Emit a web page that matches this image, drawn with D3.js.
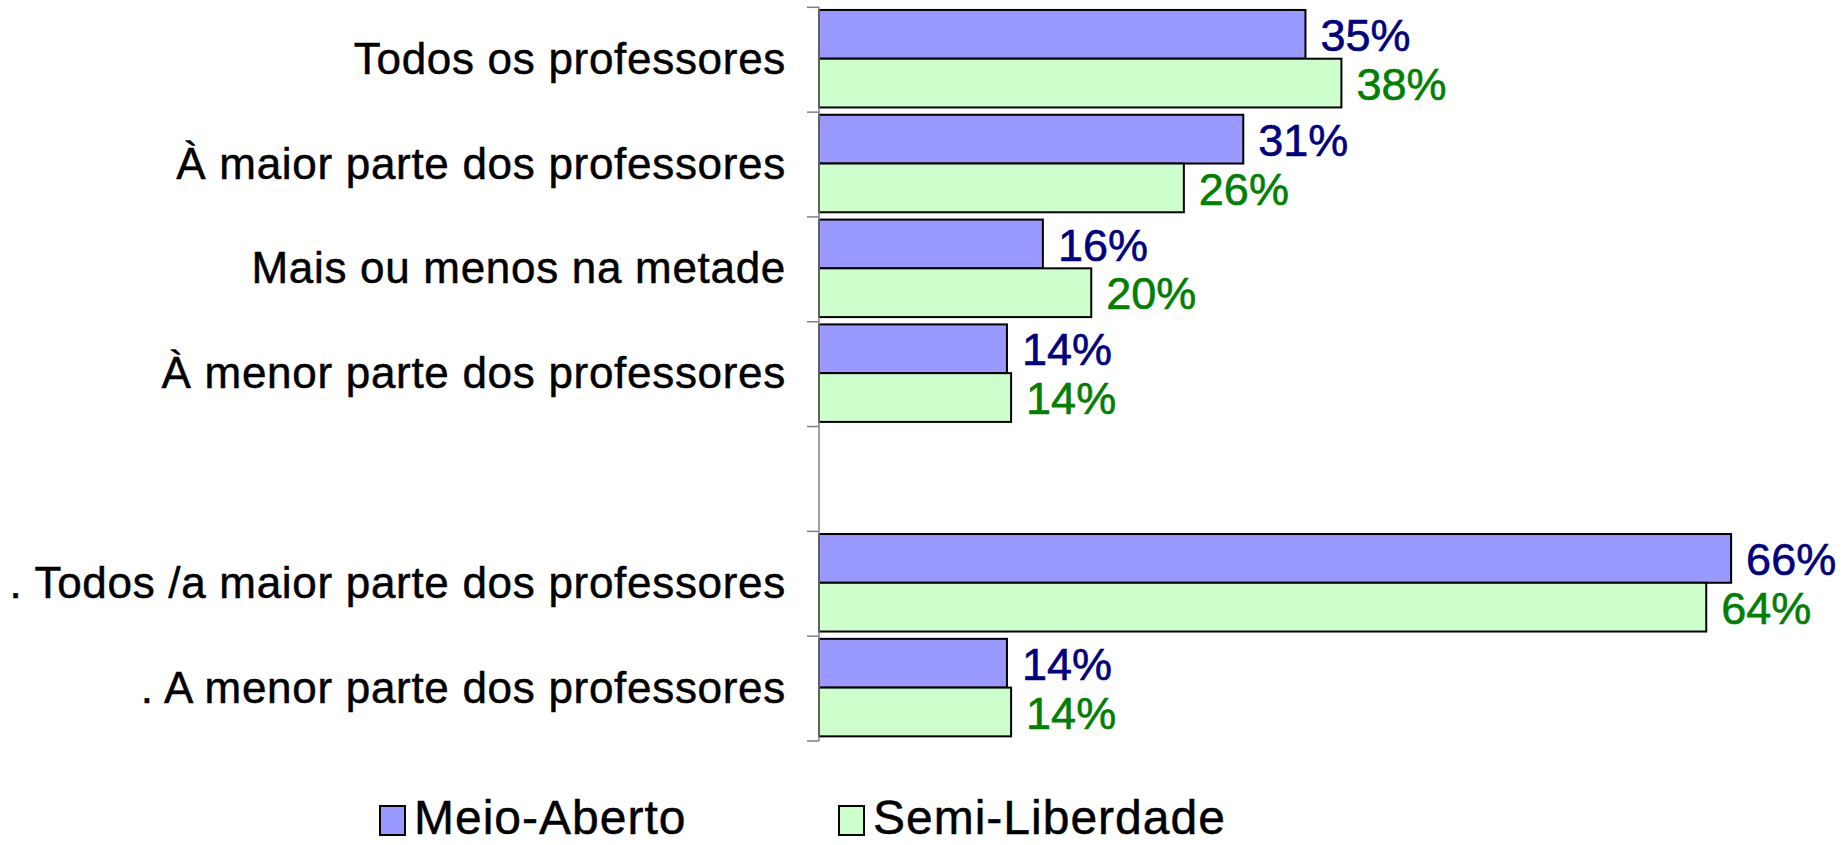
<!DOCTYPE html>
<html>
<head>
<meta charset="utf-8">
<script src="https://cdn.jsdelivr.net/npm/d3@7"></script>
<style>
  html, body { margin: 0; padding: 0; background: #fff; }
  svg { display: block; }
  text { font-family: "Liberation Sans", Arial, sans-serif; }
</style>
</head>
<body>
<svg id="chart" width="1848" height="845"></svg>
<script>
// ---- data ----
const categories = [
  "Todos os professores",
  "À maior parte dos professores",
  "Mais ou menos na metade",
  "À menor parte dos professores",
  "",
  ". Todos /a maior parte dos professores",
  ". A menor parte dos professores"
];
const seriesNames = ["Meio-Aberto", "Semi-Liberdade"];
const meioAberto    = [35.2, 30.7, 16.2, 13.6, null, 66.0, 13.6];
const semiLiberdade = [37.8, 26.4, 19.7, 13.9, null, 64.2, 13.9];
const xDomain = [0, 70];

// ---- styles ----
const fills = ["#9999FF", "#CCFFCC"];
const labelColors = ["#000080", "#008000"];

const svg = d3.select("#chart");
const axisX = 819;

const x = d3.scaleLinear().domain(xDomain).range([axisX, axisX + 70 * 13.82]);
const y = d3.scaleBand().domain(categories).range([7.3, 741]).padding(0);
const ySub = d3.scaleBand().domain(seriesNames).range([0, y.bandwidth()]).paddingInner(0).paddingOuter(0.075);

const seriesData = [meioAberto, semiLiberdade];

// bars
const g = svg.append("g");
seriesNames.forEach((name, si) => {
  const vals = seriesData[si];
  const rows = categories.map((c, i) => ({ c, v: vals[i] })).filter(d => d.v != null);
  g.selectAll(".bar-" + si).data(rows).enter().append("rect")
    .attr("x", x(0))
    .attr("y", d => y(d.c) + ySub(name) - 1)
    .attr("width", d => x(d.v) - x(0))
    .attr("height", ySub.bandwidth())
    .attr("fill", fills[si])
    .attr("stroke", "#000")
    .attr("stroke-width", 2);
  g.selectAll(".lab-" + si).data(rows).enter().append("text")
    .attr("x", d => x(d.v) + 15)
    .attr("y", d => y(d.c) + ySub(name) - 1 + ySub.bandwidth() / 2)
    .attr("dy", "0.37em")
    .attr("fill", labelColors[si])
    .attr("stroke", labelColors[si])
    .attr("stroke-width", 0.6)
    .attr("font-size", 45)
    .text(d => Math.round(d.v) + "%");
});

// category axis (labels at band centres, no ticks)
const yAxis = d3.axisLeft(y).tickSize(0).tickPadding(axisX - 786);
const ag = svg.append("g").attr("transform", `translate(${axisX},0)`).call(yAxis);
ag.select(".domain").remove();
ag.selectAll("text")
  .attr("font-size", 44)
  .attr("letter-spacing", 0.7)
  .attr("fill", "#000")
  .attr("stroke", "#000")
  .attr("stroke-width", 0.5)
  .attr("font-family", "'Liberation Sans', Arial, sans-serif");

// axis line and boundary tick marks
const bounds = categories.map(c => y(c)).concat([y.range()[1]]);
svg.append("line")
  .attr("x1", axisX).attr("x2", axisX)
  .attr("y1", y.range()[0]).attr("y2", y.range()[1])
  .attr("stroke", "#808080").attr("stroke-width", 1.5);
svg.selectAll(".btick").data(bounds).enter().append("line")
  .attr("x1", axisX - 12).attr("x2", axisX)
  .attr("y1", d => d).attr("y2", d => d)
  .attr("stroke", "#808080").attr("stroke-width", 1.5);

// legend
const legendX = [380, 839];
const lg = svg.append("g");
seriesNames.forEach((name, i) => {
  lg.append("rect")
    .attr("x", legendX[i]).attr("y", 806)
    .attr("width", 25).attr("height", 29)
    .attr("fill", fills[i]).attr("stroke", "#000").attr("stroke-width", 2);
  lg.append("text")
    .attr("x", legendX[i] + 34).attr("y", 834)
    .attr("font-size", 48)
    .attr("letter-spacing", 1)
    .attr("fill", "#000")
    .attr("stroke", "#000")
    .attr("stroke-width", 0.5)
    .text(name);
});
</script>
</body>
</html>
